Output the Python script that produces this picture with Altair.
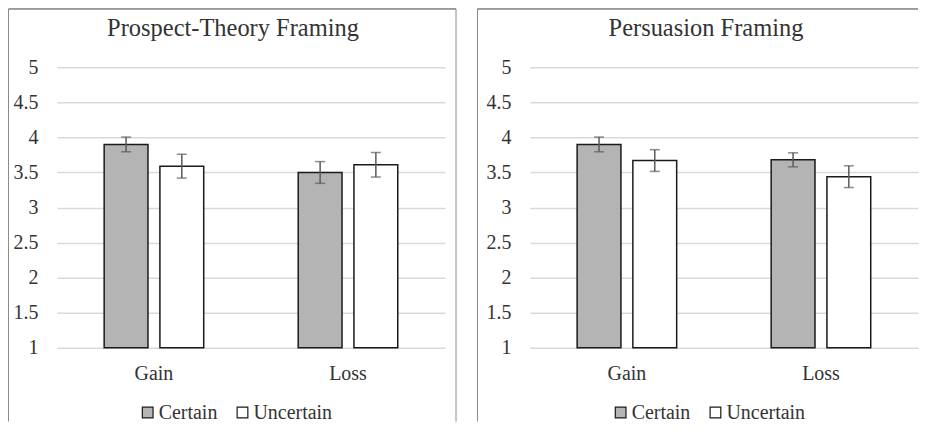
import altair as alt
import pandas as pd

# ---- data ----
panel_titles = ["Prospect-Theory Framing", "Persuasion Framing"]
frames = ["Gain", "Gain", "Loss", "Loss"]
conditions = ["Certain", "Uncertain", "Certain", "Uncertain"]
means_prospect = [3.90, 3.59, 3.50, 3.61]
err_prospect = [0.105, 0.17, 0.155, 0.175]
means_persuasion = [3.90, 3.67, 3.68, 3.44]
err_persuasion = [0.105, 0.155, 0.10, 0.155]
y_ticks = [1, 1.5, 2, 2.5, 3, 3.5, 4, 4.5, 5]
cond_order = ["Certain", "Uncertain"]
cond_colors = ["#b4b4b4", "#ffffff"]

FONT = "Liberation Serif"
TXT = "#333333"
W, H = 389, 281


def panel(title, means, errs, frame_left, frame_right, bottom):
    df = pd.DataFrame({
        "frame": frames,
        "cond": conditions,
        "mean": means,
        "lo": [m - e for m, e in zip(means, errs)],
        "hi": [m + e for m, e in zip(means, errs)],
    })
    base = alt.Chart(df)
    x = alt.X("frame:N", title=None, sort=["Gain", "Loss"],
              scale=alt.Scale(paddingInner=0.487, paddingOuter=0.2436),
              axis=alt.Axis(labelAngle=0, labelFont=FONT, labelFontSize=20,
                            labelColor=TXT, labelPadding=16, domain=False,
                            ticks=False, grid=False))
    xo = alt.XOffset("cond:N", sort=cond_order,
                     scale=alt.Scale(paddingInner=0.214, paddingOuter=0))
    yscale = alt.Scale(domain=[1, 5], zero=False, nice=False)
    yaxis = alt.Axis(values=y_ticks, format="~g", labelFont=FONT,
                     labelFontSize=20, labelColor=TXT, labelPadding=19,
                     ticks=False, domain=False, gridColor="#d9d9d9",
                     gridWidth=1.5, labelOverlap=False)
    y = alt.Y("mean:Q", title=None, scale=yscale, axis=yaxis)
    bars = base.mark_bar(stroke="#1a1a1a", strokeWidth=1.5).encode(
        x=x, xOffset=xo, y=y, y2=alt.datum(1),
        fill=alt.Fill("cond:N", sort=cond_order,
                      scale=alt.Scale(domain=cond_order, range=cond_colors),
                      legend=alt.Legend(title=None, orient="none",
                                        direction="horizontal",
                                        legendX=81, legendY=336,
                                        symbolType="square", symbolSize=115,
                                        symbolStrokeColor="#1a1a1a",
                                        symbolStrokeWidth=1.2,
                                        labelFont=FONT, labelFontSize=20,
                                        labelColor=TXT, labelOffset=1,
                                        columnPadding=15, padding=0)),
    )
    err = base.mark_rule(color="#5a5a5a", strokeWidth=1.5).encode(
        x=x, xOffset=xo,
        y=alt.Y("lo:Q", scale=yscale, title=None, axis=yaxis), y2="hi:Q")
    cap_hi = base.mark_tick(color="#5a5a5a", thickness=1.5, size=10).encode(
        x=x, xOffset=xo, y=alt.Y("hi:Q", scale=yscale, title=None, axis=yaxis))
    cap_lo = base.mark_tick(color="#5a5a5a", thickness=1.5, size=10).encode(
        x=x, xOffset=xo, y=alt.Y("lo:Q", scale=yscale, title=None, axis=yaxis))

    one = alt.Chart(pd.DataFrame({"k": [0]}))
    top = -58.5
    left_rule = one.mark_rule(color="#8a8a8a", strokeWidth=1).encode(
        x=alt.value(frame_left), y=alt.value(top), y2=alt.value(bottom))
    top_rule = one.mark_rule(color="#404040", strokeWidth=1).encode(
        x=alt.value(frame_left), x2=alt.value(frame_right if frame_right is not None else W),
        y=alt.value(top))
    layers = [left_rule, top_rule, bars, err, cap_hi, cap_lo]
    if frame_right is not None:
        right_rule = one.mark_rule(color="#8a8a8a", strokeWidth=1).encode(
            x=alt.value(frame_right), y=alt.value(top), y2=alt.value(bottom))
        layers.insert(2, right_rule)
    return alt.layer(*layers).properties(
        width=W, height=H,
        title=alt.TitleParams(title, font=FONT, fontSize=24.5,
                              fontWeight="normal", color=TXT,
                              baseline="alphabetic", frame="group",
                              offset=-52, dx=-18, anchor="middle"),
    )


left = panel(panel_titles[0], means_prospect, err_prospect, -48.5, 400, 355)
right = panel(panel_titles[1], means_persuasion, err_persuasion, -52.5, None, 355)

chart = alt.hconcat(left, right, spacing=20).resolve_scale(
    fill="independent").resolve_legend(fill="independent").configure(
    padding=0, background="white", font=FONT).configure_view(
    stroke=None).configure_axis(labelFont=FONT).configure_legend(
    labelFont=FONT)

chart.save("out.html", embed_options={"renderer": "svg", "actions": False})
